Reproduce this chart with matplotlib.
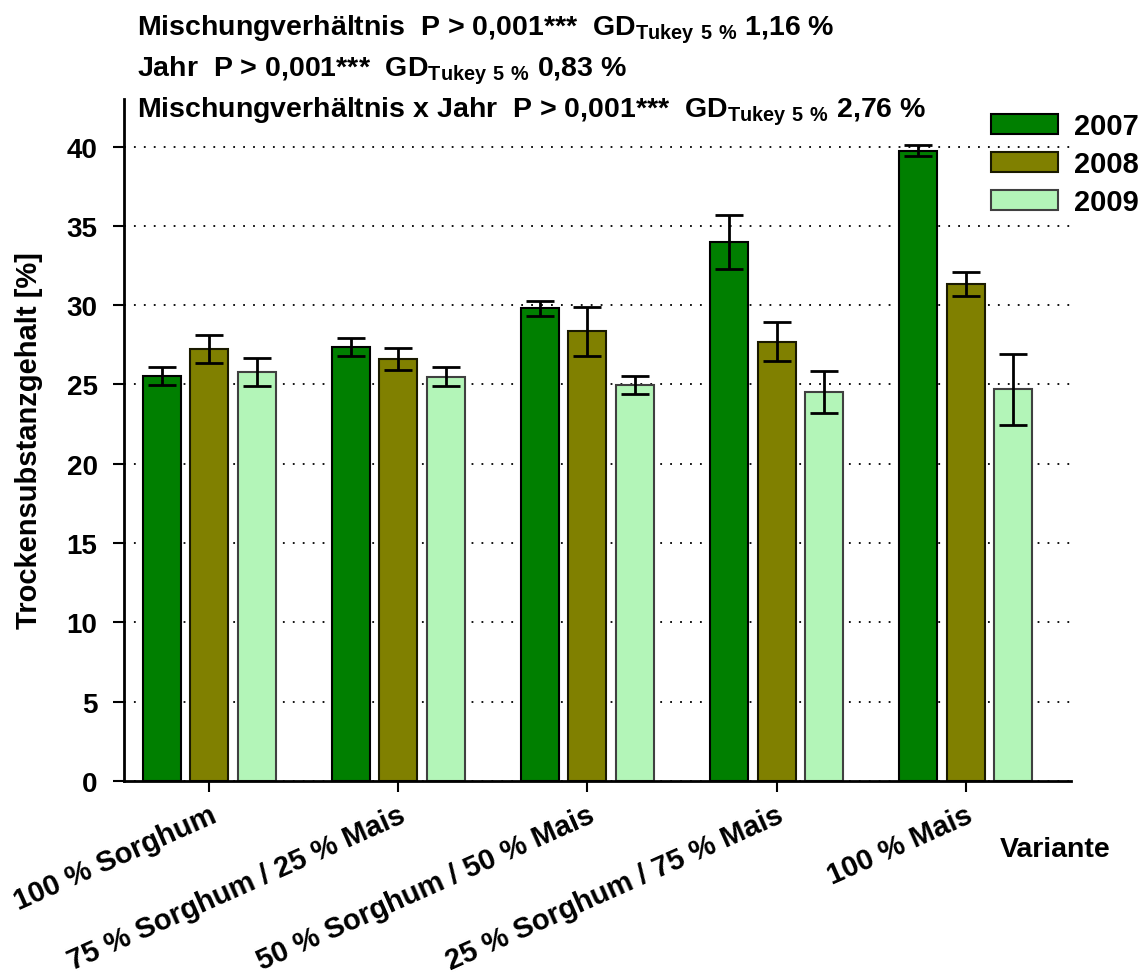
import matplotlib
matplotlib.use("Agg")
import matplotlib.pyplot as plt
import numpy as np

plt.rcParams['font.family'] = ['Liberation Sans', 'DejaVu Sans']
plt.rcParams['font.weight'] = 'bold'
plt.rcParams['axes.labelweight'] = 'bold'
plt.rcParams['mathtext.fontset'] = 'custom'
plt.rcParams['mathtext.rm'] = 'Liberation Sans:bold'
plt.rcParams['mathtext.bf'] = 'Liberation Sans:bold'

# data
varianten = ["100 % Sorghum", "75 % Sorghum / 25 % Mais", "50 % Sorghum / 50 % Mais",
             "25 % Sorghum / 75 % Mais", "100 % Mais"]
jahre = ["2007", "2008", "2009"]
ts_2007 = [25.55, 27.35, 29.8, 34.0, 39.75]
ts_2008 = [27.25, 26.6, 28.35, 27.7, 31.35]
ts_2009 = [25.8, 25.5, 24.95, 24.5, 24.7]
err_2007 = [0.57, 0.58, 0.46, 1.7, 0.35]
err_2008 = [0.9, 0.67, 1.53, 1.24, 0.75]
err_2009 = [0.9, 0.6, 0.56, 1.32, 2.24]
farben = ["#007f00", "#808000", "#b3f5b8"]
kanten = ["#000000", "#1a1a00", "#404040"]

header = [r"Mischungverhältnis  P > 0,001***  GD$_{\mathrm{Tukey\ 5\ \%}}$ 1,16 %",
          r"Jahr  P > 0,001***  GD$_{\mathrm{Tukey\ 5\ \%}}$ 0,83 %",
          r"Mischungverhältnis x Jahr  P > 0,001***  GD$_{\mathrm{Tukey\ 5\ \%}}$ 2,76 %"]

fig = plt.figure(figsize=(11.45, 9.79), dpi=100)
ax = fig.add_axes([124/1145, 1 - 782/979, (1071-124)/1145, (782-100)/979])

x = np.arange(len(varianten))
breite = 0.201
abstand = 0.249
werte = [ts_2007, ts_2008, ts_2009]
fehler = [err_2007, err_2008, err_2009]
for i in range(3):
    ax.bar(x + (i - 1) * abstand, werte[i], breite, color=farben[i], edgecolor=kanten[i],
           linewidth=1.5, label=jahre[i], zorder=2)
    ax.errorbar(x + (i - 1) * abstand, werte[i], yerr=fehler[i], fmt='none', ecolor='black',
                elinewidth=2, capsize=10, capthick=2, zorder=3)

ax.set_xlim(-0.452, 4.558)
ax.set_ylim(0, 43)
ax.set_yticks(range(0, 41, 5))
ax.set_xticks(x)
ax.set_xticklabels(varianten, rotation=24, ha='right', rotation_mode='anchor', fontsize=21)
ax.tick_params(axis='y', labelsize=20, length=8, width=1.5, direction='out', pad=11)
ax.tick_params(axis='x', length=8, width=1.5, direction='out', pad=6)
ax.yaxis.grid(True, linestyle=(0, (1, 4.5)), color='black', linewidth=1.3)
ax.set_axisbelow(True)
for s in ['top', 'right']:
    ax.spines[s].set_visible(False)
for s in ['left', 'bottom']:
    ax.spines[s].set_linewidth(2)

ax.set_ylabel("Trockensubstanzgehalt [%]", fontsize=21)
ax.yaxis.set_label_coords(-0.0855, 0.5)
fig.text(1055/1145, 1 - 850/979, "Variante", fontsize=20.5, ha='center', va='center')

for k, zeile in enumerate(header):
    fig.text(137/1145, 1 - (30 + 41 * k)/979, zeile, fontsize=20.5, ha='left', va='center')

ax.legend(loc='upper left', bbox_to_anchor=(991/1145, 1 - 113/979), bbox_transform=fig.transFigure,
          frameon=False, fontsize=21, handlelength=2.28, handleheight=0.69, labelspacing=0.34,
          handletextpad=0.55, borderpad=0, borderaxespad=0)

fig.savefig("out.png", dpi=100)
